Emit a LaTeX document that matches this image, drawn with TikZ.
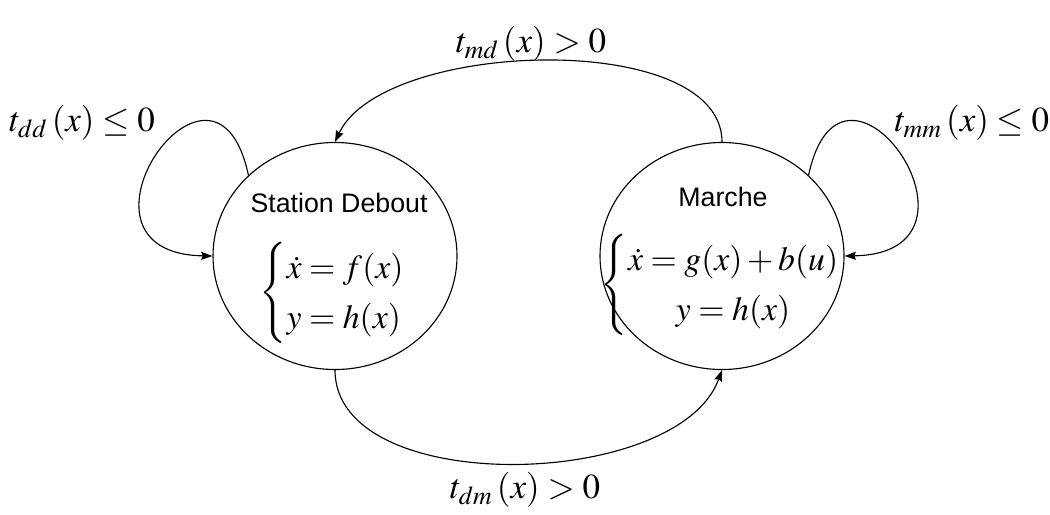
\documentclass[tikz,border=0pt]{standalone}
\usepackage{amsmath}
\usepackage{mathptmx}
\usepackage[no-math]{fontspec}
\newfontfamily\arialfont{Liberation Sans}
\usetikzlibrary{positioning,arrows.meta,shapes.geometric}

\begin{document}
\begin{tikzpicture}[
  x=0.4pt, y=0.4pt,
  state/.style={draw, ellipse, line width=0.45pt, minimum width=97.6pt, minimum height=90.8pt, inner sep=0pt},
  title/.style={font=\arialfont\fontsize{10.7}{13}\selectfont, inner sep=0pt},
  eqn/.style={font=\fontsize{13.5}{16}\selectfont, inner sep=0pt},
  cond/.style={font=\fontsize{14}{17}\selectfont, inner sep=0pt},
  arr/.style={-{Stealth[length=4.5pt, width=3.2pt, inset=0.6pt]}, line width=0.45pt}]
\useasboundingbox (0,0) rectangle (1050,-514);
\node[state] (sd) at (335,-256) {};
\node[state] (mar) at (722,-256) {};
\node[title] (sdtitle) at (339,-203) {Station Debout};
\node[title] (martitle) at (723,-197) {Marche};
\node[eqn] (sdeq) at (333,-293) {$\left\{\renewcommand{\arraystretch}{1.25}\begin{array}{@{}l@{}}\dot{x}=f(x)\\ y=h(x)\end{array}\right.$};
\node[eqn] (mareq) at (721,-285) {$\left\{\renewcommand{\arraystretch}{1.25}\begin{array}{@{}c@{}}\dot{x}=g(x)+b(u)\\ y=h(x)\end{array}\right.$};
\node[cond] (tdd) at (82,-123) {$t_{dd}\left(x\right)\le 0$};
\node[cond] (tmd) at (531,-44) {$t_{md}\left(x\right)>0$};
\node[cond] (tmm) at (972,-123) {$t_{mm}\left(x\right)\le 0$};
\node[cond] (tdm) at (525,-490) {$t_{dm}\left(x\right)>0$};
\draw[arr] (sd.137) to[out=102, in=179, looseness=4.7] (sd.west);
\draw[arr] (mar.43) to[out=78, in=1, looseness=4.7] (mar.east);
\draw[arr] (mar.north) to[out=90, in=65, looseness=0.75] (sd.north);
\draw[arr] (sd.south) to[out=-90, in=-110, looseness=0.85] (mar.south);
\end{tikzpicture}
\end{document}
